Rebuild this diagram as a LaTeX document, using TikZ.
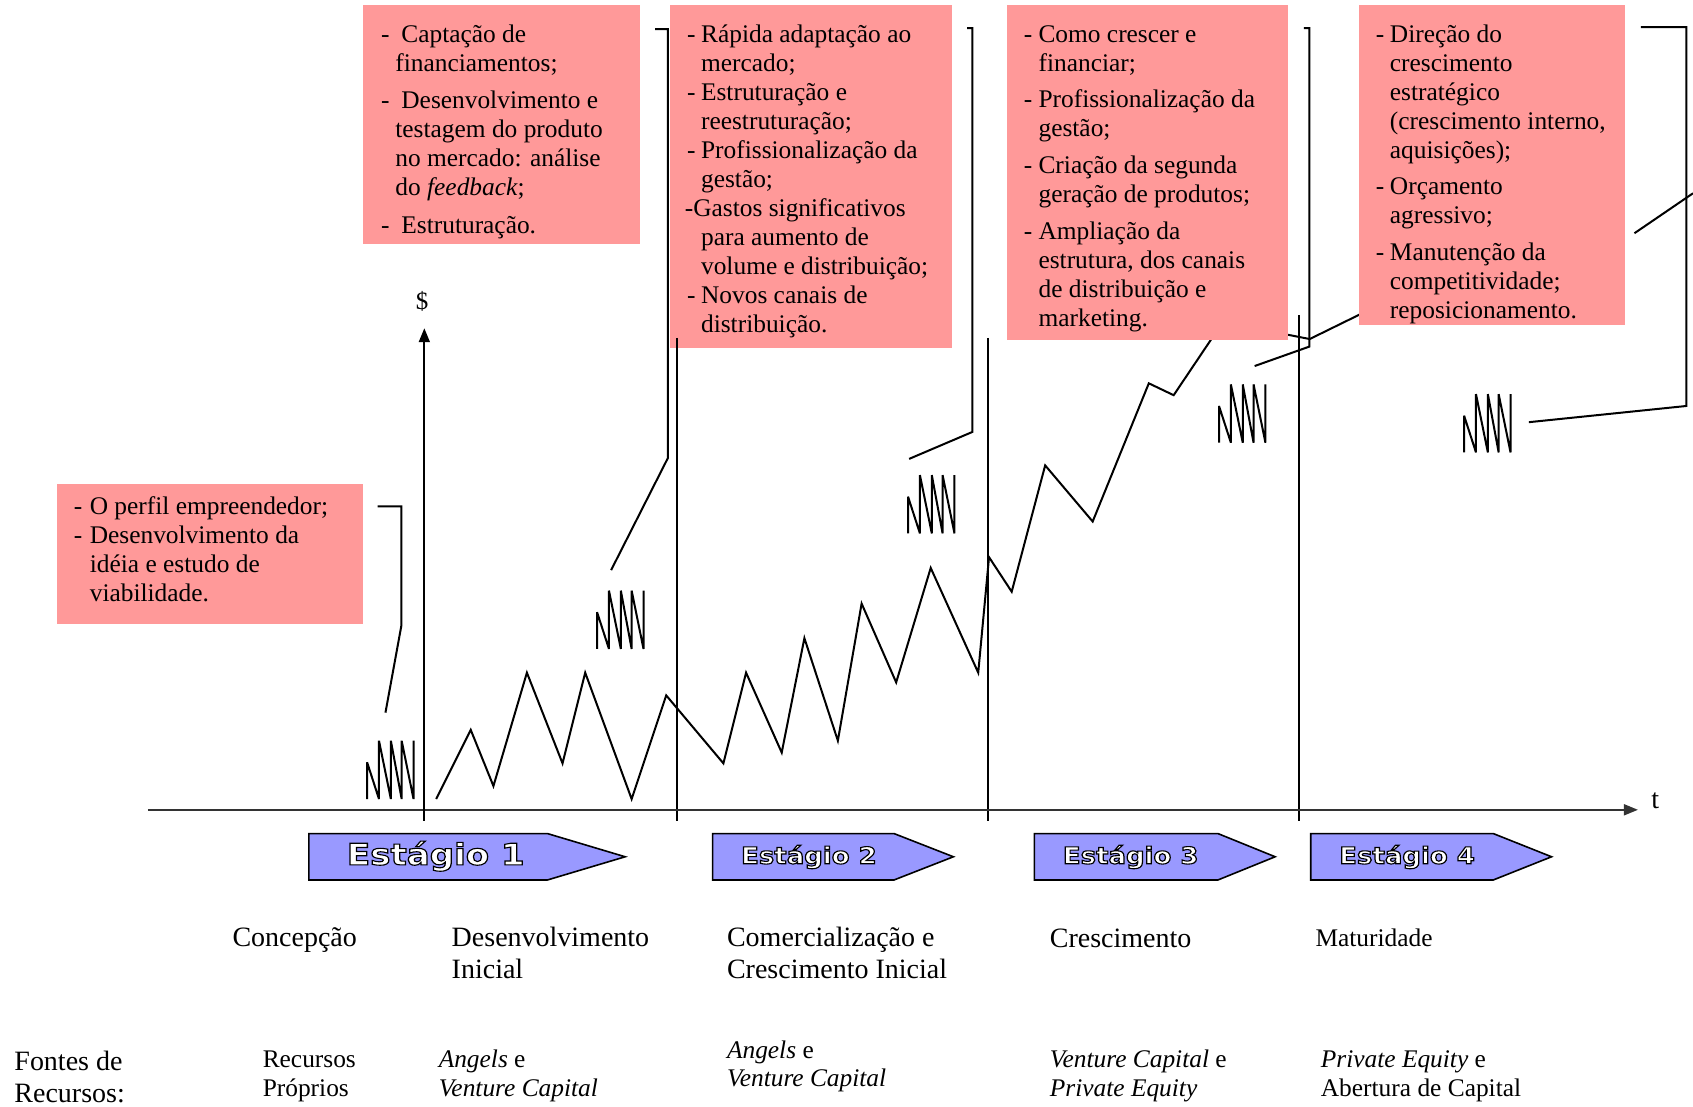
\documentclass[tikz,border=0pt]{standalone}
\usepackage{fontspec}
\usepackage{graphicx}
\setmainfont{Liberation Serif}
\newfontfamily\stagefont{DejaVu Sans}
\usetikzlibrary{arrows.meta}
\definecolor{boxpink}{RGB}{255,153,153}
\definecolor{stageblue}{RGB}{153,153,255}

\tikzset{
  thinline/.style={line width=1pt},
  axisline/.style={line width=0.9pt, black!80, -{Triangle[length=7pt,width=5.5pt]}},
  infobox/.style={fill=boxpink, inner sep=0pt, anchor=north west},
  boxtext/.style={anchor=north west, inner sep=0pt, font=\fontsize{12.7}{14.5}\selectfont},
  bottomlabel/.style={anchor=north west, inner sep=0pt, font=\fontsize{14}{16.2}\selectfont},
  fundlabel/.style={anchor=north west, inner sep=0pt, font=\fontsize{12.7}{14.4}\selectfont},
  stagearrow/.style={fill=stageblue, draw=black, line width=0.8pt},
  stagetext/.style={anchor=base west, inner sep=0pt, font=\stagefont\bfseries},
  spring/.pic={\draw[thinline, line join=bevel] (0,0) -- (0,-34) -- (11,0) -- (11,-54) -- (22,0) -- (22,-54)
     -- (32,0) -- (32,-54) -- (43,0) -- (43,-54);}
}

% white letters stroked in black (text rendering mode 2)
\newcommand\outlined[3]{%
  \fontsize{#1}{#1}\selectfont\scalebox{#2}[1]{\color{white}%
  \special{pdf:literal direct 0 G 2 Tr 0.55 w}#3\special{pdf:literal direct 0 Tr}}}

\begin{document}
\begin{tikzpicture}[x=0.54pt, y=-0.54pt]
\useasboundingbox (0,0) rectangle (1568,1025);

% growth curve
\draw[thinline] (404,740) -- (436,676) -- (457,728) -- (488,623) -- (521,707) -- (542,623)
  -- (585,740) -- (617,644) -- (670,707) -- (691,623) -- (724,697) -- (745,591)
  -- (776,686) -- (798,559) -- (830,632) -- (862,526) -- (906,623) -- (916,516)
  -- (937,548) -- (968,431) -- (1012,483) -- (1064,355) -- (1087,366) -- (1130,302);
\draw[thinline] (1185,308.5) -- (1213,314) -- (1268,287);

% text boxes
\node[infobox, minimum width=153.4pt, minimum height=70.2pt] (box0) at (52,448) {};
\node[infobox, minimum width=138.2pt, minimum height=119.9pt] (box1) at (336,4) {};
\node[infobox, minimum width=140.9pt, minimum height=171.7pt] (box2) at (620,4) {};
\node[infobox, minimum width=140.9pt, minimum height=167.9pt] (box3) at (932,4) {};
\node[infobox, minimum width=133.4pt, minimum height=160.4pt] (box4) at (1258,4) {};

\node[boxtext] (txt0) at (68,457.6) {\begin{tabular}{@{}p{8pt}@{}l@{}}
-&O perfil empreendedor;\\
-&Desenvolvimento da\\
&idéia e estudo de\\
&viabilidade.
\end{tabular}};
\node[boxtext] (txt1) at (352.5,20) {\begin{tabular}{@{}p{7.2pt}@{}l@{}}
-&\hspace{3pt}Captação de\\
&financiamentos;\\[4.2pt]
-&\hspace{3pt}Desenvolvimento e\\
&testagem do produto\\
&no mercado: análise\\
&do \textit{feedback};\\[4.2pt]
-&\hspace{3pt}Estruturação.
\end{tabular}};
\node[boxtext] (txt2) at (636,20) {\begin{tabular}{@{}p{7pt}@{}l@{}}
-&Rápida adaptação ao\\
&mercado;\\
-&Estruturação e\\
&reestruturação;\\
-&Profissionalização da\\
&gestão;\\
\multicolumn{2}{@{}l@{}}{\hspace{-1.1pt}-Gastos significativos}\\
&para aumento de\\
&volume e distribuição;\\
-&Novos canais de\\
&distribuição.
\end{tabular}};
\node[boxtext] (txt3) at (948,20) {\begin{tabular}{@{}p{7.3pt}@{}l@{}}
-&Como crescer e\\
&financiar;\\[3.8pt]
-&Profissionalização da\\
&gestão;\\[3.8pt]
-&Criação da segunda\\
&geração de produtos;\\[3.8pt]
-&Ampliação da\\
&estrutura, dos canais\\
&de distribuição e\\
&marketing.
\end{tabular}};
\begin{scope}
\clip (1258,4) rectangle (1505,301);
\node[boxtext] (txt4) at (1274,20) {\begin{tabular}{@{}p{7pt}@{}l@{}}
-&Direção do\\
&crescimento\\
&estratégico\\
&(crescimento interno,\\
&aquisições);\\[3.8pt]
-&Orçamento\\
&agressivo;\\[3.8pt]
-&Manutenção da\\
&competitividade;\\
&reposicionamento.
\end{tabular}};
\end{scope}

% stage dividers
\foreach \x/\top in {627/313, 915/313, 1203/292}
  \draw[thinline] (\x,\top) -- (\x,760);

% axes
\coordinate (orig) at (393,750);
\draw[axisline] (137,750) -- (1517,750);
\draw[axisline, black] (393,760) -- (393,304);
\node[anchor=base, inner sep=0pt, font=\fontsize{12.5}{12.5}\selectfont] (dollar) at (391,287) {\$};
\node[anchor=base west, inner sep=0pt, font=\fontsize{14}{14}\selectfont] (tlabel) at (1529,749) {t};

% springs and callouts
\foreach \x/\y [count=\i] in {340/740, 553/601, 841/494, 1129/410, 1356/419}
  \pic (spring\i) at (\x,\y) {spring};
\coordinate (tip0) at (357,660);
\coordinate (tip1) at (566,528);
\coordinate (tip2) at (842,425);
\coordinate (tip3) at (1162,339);
\coordinate (tip4) at (1416,391);
\coordinate (edge) at (1568,179);
\draw[thinline] ([shift={(13,21)}]box0.north east) -- ++(22,0) -- ++(0,110) -- (tip0);
\draw[thinline] ([shift={(14,23)}]box1.north east) -- ++(12,0) -- ++(0,397) -- (tip1);
\draw[thinline] ([shift={(14,22)}]box2.north east) -- ++(5,0) -- ++(0,374) -- (tip2);
\draw[thinline] ([shift={(14,22)}]box3.north east) -- ++(5,0) -- ++(0,295) -- (tip3);
\draw[thinline] ([shift={(14,21)}]box4.north east) -- ++(42,0) -- ++(0,351) -- (tip4);
\draw[thinline] ([shift={(8,212)}]box4.north east) -- (edge);

% stage arrows
\foreach \l/\f/\p in {286/507/579, 660/828/883, 958/1128/1181, 1214/1383/1437}
  \draw[stagearrow] (\l,772) -- (\f,772) -- (\p,793.5) -- (\f,815) -- (\l,815) -- cycle;
\node[stagetext] (st1) at (321,801) {\outlined{14.8}{1.15}{Estágio 1}};
\node[stagetext] (st2) at (686,800) {\outlined{11.6}{1.12}{Estágio 2}};
\node[stagetext] (st3) at (984,800) {\outlined{11.6}{1.12}{Estágio 3}};
\node[stagetext] (st4) at (1240,800) {\outlined{11.6}{1.12}{Estágio 4}};

% stage names
\node[bottomlabel] (conc) at (215,855) {\begin{tabular}{@{}l@{}}Concepção\end{tabular}};
\node[bottomlabel] (desi) at (418,855) {\begin{tabular}{@{}l@{}}Desenvolvimento\\Inicial\end{tabular}};
\node[bottomlabel] (come) at (673,855) {\begin{tabular}{@{}l@{}}Comercialização e\\Crescimento Inicial\end{tabular}};
\node[bottomlabel] (cres) at (972,856) {\begin{tabular}{@{}l@{}}Crescimento\end{tabular}};
\node[fundlabel] (matu) at (1218,858) {\begin{tabular}{@{}l@{}}Maturidade\end{tabular}};

% sources of funds
\node[bottomlabel] (fontes) at (13,970) {\begin{tabular}{@{}l@{}}Fontes de\\Recursos:\end{tabular}};
\node[fundlabel] (f0) at (243,970) {\begin{tabular}{@{}l@{}}Recursos\\Próprios\end{tabular}};
\node[fundlabel] (f1) at (406,970) {\begin{tabular}{@{}l@{}}\textit{Angels} e\\\textit{Venture Capital}\end{tabular}};
\node[fundlabel] (f2) at (673,961) {\begin{tabular}{@{}l@{}}\textit{Angels} e\\\textit{Venture Capital}\end{tabular}};
\node[fundlabel] (f3) at (972,970) {\begin{tabular}{@{}l@{}}\textit{Venture Capital} e\\\textit{Private Equity}\end{tabular}};
\node[fundlabel] (f4) at (1223,970) {\begin{tabular}{@{}l@{}}\textit{Private Equity} e\\Abertura de Capital\end{tabular}};
\end{tikzpicture}
\end{document}
